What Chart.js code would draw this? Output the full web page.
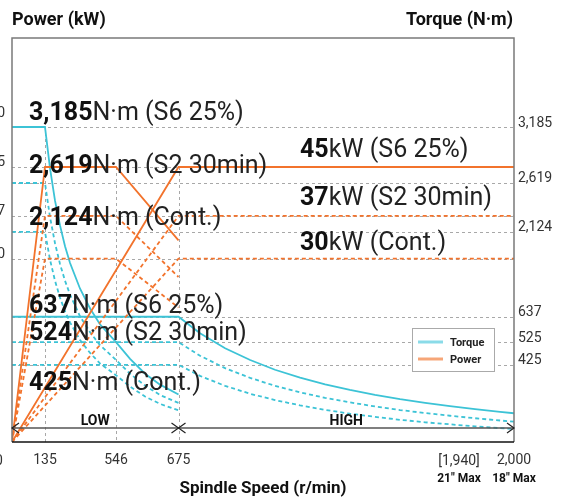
<!DOCTYPE html>
<html>
<head>
<meta charset="utf-8">
<script src="https://cdn.jsdelivr.net/npm/chart.js@4.4.1/dist/chart.umd.min.js"></script>
<style>
html, body { margin: 0; padding: 0; background: #fff; }
#wrap { width: 561px; height: 504px; }
</style>
</head>
<body>
<div id="wrap"><canvas id="chart"></canvas></div>
<script>
// speed in r/min, power in kW, torque in N·m
const speedTicks = [0, 135, 546, 675, 2000];
const powerTicks = [50, 45, 37, 30];
const torqueLowTicks = [3185, 2619, 2124];
const torqueHighTicks = [637, 525, 425];

// low gear
const lowSpeed = [0, 135, 164, 193, 222, 251, 280, 338, 396, 453, 546, 575, 606, 637, 675];
const lowTorqueS6 = [3185, 3185, 2770, 2440, 2190, 1980, 1810, 1550, 1350, 1190, 1010, 840, 690, 580, 480];
const lowTorqueS2 = [2619, 2619, 2275, 2010, 1800, 1630, 1490, 1270, 1110, 980, 830, 690, 570, 475, 395];
const lowTorqueCont = [2124, 2124, 1845, 1630, 1460, 1320, 1210, 1030, 900, 795, 675, 560, 460, 385, 320];
const lowPowerSpeed = [0, 135, 546, 675];
const lowPowerS6 = [0, 45, 45, 33];
const lowPowerS2 = [0, 37, 37, 27];
const lowPowerCont = [0, 30, 30, 22];

// high gear
const highSpeed = [0, 675, 760, 859, 958, 1056, 1155, 1254, 1352, 1451, 1550, 1649, 1747, 1846, 1945, 2000];
const highTorqueS6 = [637, 637, 564, 498, 446, 403, 368, 339, 314, 292, 273, 257, 242, 229, 217, 211];
const highTorqueS2 = [525, 525, 465, 410, 367, 332, 303, 279, 259, 241, 225, 212, 200, 189, 179, 174];
const highTorqueCont = [425, 425, 376, 332, 297, 269, 246, 226, 209, 195, 182, 171, 162, 153, 145, 141];
const highPowerSpeed = [0, 675, 2000];
const highPowerS6 = [0, 45, 45];
const highPowerS2 = [0, 37, 37];
const highPowerCont = [0, 30, 30];

const CYAN = '#3cc3d6';
const ORANGE = '#f2732c';
const GRID = '#a8a8a8';
const FONT = "Roboto, 'DejaVu Sans', sans-serif";

Chart.defaults.font.family = FONT;

// the drawing's axes are not linear, they bend at a few points
class BreakScale extends Chart.LinearScale {
  warp(v) {
    const b = this.options.breaks;
    for (let i = 1; i < b.length; i++) {
      if (v <= b[i][0] || i === b.length - 1) {
        const t = (v - b[i - 1][0]) / (b[i][0] - b[i - 1][0]);
        return b[i - 1][1] + t * (b[i][1] - b[i - 1][1]);
      }
    }
    return 0;
  }
  getPixelForValue(value) {
    return this.getPixelForDecimal(this.warp(value));
  }
  getValueForPixel(pixel) {
    const d = this.getDecimalForPixel(pixel);
    const b = this.options.breaks;
    for (let i = 1; i < b.length; i++) {
      if (d <= b[i][1] || i === b.length - 1) {
        const t = (d - b[i - 1][1]) / (b[i][1] - b[i - 1][1]);
        return b[i - 1][0] + t * (b[i][0] - b[i - 1][0]);
      }
    }
    return 0;
  }
}
BreakScale.id = 'breaks';
BreakScale.defaults = Chart.LinearScale.defaults;
Chart.register(BreakScale);

function pts(xs, ys) {
  return xs.map((x, i) => ({x: x, y: ys[i]}));
}

function line(label, xs, ys, color, axis, dashed) {
  return {
    label: label,
    data: pts(xs, ys),
    yAxisID: axis,
    borderColor: color,
    borderWidth: 1.8,
    borderDash: dashed ? [4, 3] : [],
    pointRadius: 0,
    tension: 0,
    fill: false
  };
}

const notes = [
  {b: '3,185', r: 'N·m (S6 25%)', x: 29, y: 120},
  {b: '2,619', r: 'N·m (S2 30min)', x: 29, y: 173},
  {b: '2,124', r: 'N·m (Cont.)', x: 29, y: 225},
  {b: '637', r: 'N·m (S6 25%)', x: 29, y: 313},
  {b: '524', r: 'N·m (S2 30min)', x: 29, y: 340},
  {b: '425', r: 'N·m (Cont.)', x: 29, y: 390},
  {b: '45', r: 'kW (S6 25%)', x: 300, y: 157},
  {b: '37', r: 'kW (S2 30min)', x: 300, y: 205},
  {b: '30', r: 'kW (Cont.)', x: 300, y: 250}
];

function dashH(ctx, x1, x2, y) {
  ctx.beginPath();
  ctx.moveTo(x1, Math.round(y) + 0.5);
  ctx.lineTo(x2, Math.round(y) + 0.5);
  ctx.stroke();
}

const drawing = {
  id: 'drawing',
  beforeDatasetsDraw(chart) {
    const {ctx, chartArea: a, scales} = chart;
    ctx.save();
    ctx.strokeStyle = GRID;
    ctx.lineWidth = 1;
    ctx.setLineDash([3, 3]);
    powerTicks.slice(1).forEach(v => dashH(ctx, a.left, a.right, scales.y.getPixelForValue(v)));
    torqueLowTicks.forEach(v => dashH(ctx, a.left, a.right, scales.yT.getPixelForValue(v)));
    torqueHighTicks.forEach(v => dashH(ctx, a.left, a.right, scales.yH.getPixelForValue(v)));
    const tops = [
      [135, scales.yT.getPixelForValue(3185)],
      [546, scales.y.getPixelForValue(45)],
      [675, scales.y.getPixelForValue(45)]
    ];
    tops.forEach(([v, top]) => {
      const x = Math.round(scales.x.getPixelForValue(v)) + 0.5;
      ctx.beginPath();
      ctx.moveTo(x, top);
      ctx.lineTo(x, a.bottom);
      ctx.stroke();
    });
    ctx.restore();
  },
  afterDatasetsDraw(chart) {
    const {ctx, chartArea: a, scales} = chart;
    const xs = scales.x;
    ctx.save();

    // frame
    ctx.lineWidth = 1.5;
    ctx.strokeStyle = '#7a7a7a';
    ctx.beginPath();
    ctx.moveTo(a.left, a.bottom);
    ctx.lineTo(a.left, a.top);
    ctx.lineTo(a.right, a.top);
    ctx.lineTo(a.right, a.bottom);
    ctx.stroke();
    ctx.strokeStyle = '#111';
    ctx.beginPath();
    ctx.moveTo(a.left, a.bottom);
    ctx.lineTo(a.right, a.bottom);
    ctx.stroke();

    // gear ranges
    const ay = a.bottom - 14;
    const x0 = xs.getPixelForValue(0), x1 = xs.getPixelForValue(675), x2 = xs.getPixelForValue(2000);
    ctx.strokeStyle = '#555';
    ctx.lineWidth = 1.6;
    ctx.beginPath();
    ctx.moveTo(x0, ay);
    ctx.lineTo(x2, ay);
    ctx.stroke();
    ctx.lineWidth = 1.2;
    ctx.strokeStyle = '#222';
    [[x0, 1], [x1, -1], [x1, 1], [x2, -1]].forEach(([x, d]) => {
      ctx.beginPath();
      ctx.moveTo(x + d * 7, ay - 5);
      ctx.lineTo(x, ay);
      ctx.lineTo(x + d * 7, ay + 5);
      ctx.stroke();
    });
    ctx.fillStyle = '#111';
    ctx.font = 'bold 14px ' + FONT;
    ctx.textAlign = 'center';
    ctx.textBaseline = 'alphabetic';
    ctx.fillText('LOW', (x0 + x1) / 2, ay - 3);
    ctx.fillText('HIGH', (x1 + x2) / 2, ay - 3);

    // axis titles
    ctx.font = 'bold 18px ' + FONT;
    ctx.textAlign = 'left';
    ctx.fillText('Power (kW)', a.left, 25);
    ctx.textAlign = 'right';
    ctx.fillText('Torque (N·m)', a.right - 1, 25);

    // right torque labels
    ctx.font = '14px ' + FONT;
    ctx.fillStyle = '#333';
    ctx.textAlign = 'left';
    ctx.textBaseline = 'middle';
    torqueLowTicks.forEach(v => ctx.fillText(v.toLocaleString('en-US'), a.right + 4, scales.yT.getPixelForValue(v) - 4));
    torqueHighTicks.forEach(v => ctx.fillText(v.toLocaleString('en-US'), a.right + 4, scales.yH.getPixelForValue(v) - 4));

    // extra speed labels
    const ly = a.bottom + 19;
    ctx.textAlign = 'center';
    ctx.fillText('0', x0 - 13, ly);
    ctx.fillText('[1,940]', x2 - 55, ly);
    ctx.font = 'bold 12px ' + FONT;
    ctx.fillStyle = '#111';
    ctx.fillText('21" Max', x2 - 55, ly + 18);
    ctx.fillText('18" Max', x2, ly + 18);

    // curve notes
    ctx.textAlign = 'left';
    ctx.textBaseline = 'alphabetic';
    notes.forEach(n => {
      ctx.fillStyle = '#111';
      ctx.font = 'bold 25px ' + FONT;
      ctx.fillText(n.b, n.x, n.y);
      const w = ctx.measureText(n.b).width;
      ctx.fillStyle = '#222';
      ctx.font = '25px ' + FONT;
      ctx.fillText(n.r, n.x + w, n.y);
    });

    // legend
    ctx.setLineDash([]);
    ctx.fillStyle = '#fff';
    ctx.fillRect(412.5, 328.5, 82, 43);
    ctx.strokeStyle = '#aaa';
    ctx.lineWidth = 1;
    ctx.strokeRect(412.5, 328.5, 82, 43);
    ctx.lineWidth = 3;
    ctx.strokeStyle = '#8adbe8';
    ctx.beginPath(); ctx.moveTo(418, 342); ctx.lineTo(443, 342); ctx.stroke();
    ctx.strokeStyle = '#f6a678';
    ctx.beginPath(); ctx.moveTo(418, 359); ctx.lineTo(443, 359); ctx.stroke();
    ctx.fillStyle = '#222';
    ctx.font = 'bold 11px ' + FONT;
    ctx.textBaseline = 'middle';
    ctx.fillText('Torque', 450, 343);
    ctx.fillText('Power', 450, 360);

    ctx.restore();
  }
};

new Chart(document.getElementById('chart'), {
  type: 'line',
  data: {
    datasets: [
      line('Power S6 low', lowPowerSpeed, lowPowerS6, ORANGE, 'y', false),
      line('Power S2 low', lowPowerSpeed, lowPowerS2, ORANGE, 'y', true),
      line('Power Cont low', lowPowerSpeed, lowPowerCont, ORANGE, 'y', true),
      line('Power S6 high', highPowerSpeed, highPowerS6, ORANGE, 'y', false),
      line('Power S2 high', highPowerSpeed, highPowerS2, ORANGE, 'y', true),
      line('Power Cont high', highPowerSpeed, highPowerCont, ORANGE, 'y', true),
      line('Torque S6 low', lowSpeed, lowTorqueS6, CYAN, 'yT', false),
      line('Torque S2 low', lowSpeed, lowTorqueS2, CYAN, 'yT', true),
      line('Torque Cont low', lowSpeed, lowTorqueCont, CYAN, 'yT', true),
      line('Torque S6 high', highSpeed, highTorqueS6, CYAN, 'yH', false),
      line('Torque S2 high', highSpeed, highTorqueS2, CYAN, 'yH', true),
      line('Torque Cont high', highSpeed, highTorqueCont, CYAN, 'yH', true)
    ]
  },
  options: {
    responsive: true,
    maintainAspectRatio: false,
    animation: false,
    layout: {padding: {top: 38, right: 47, left: 0, bottom: 0}},
    plugins: {legend: {display: false}, tooltip: {enabled: false}},
    scales: {
      x: {
        type: 'breaks',
        min: 0,
        max: 2000,
        breaks: [[0, 0], [135, 0.0657], [546, 0.2072], [675, 0.3317], [2000, 1]],
        afterBuildTicks: s => { s.ticks = speedTicks.map(v => ({value: v})); },
        afterFit: s => { s.height = 62; },
        grid: {display: false, drawTicks: false},
        border: {display: false},
        ticks: {
          autoSkip: false,
          maxRotation: 0,
          padding: 10,
          color: '#333',
          font: {size: 14},
          callback: v => v === 0 ? '' : v.toLocaleString('en-US')
        },
        title: {
          display: true,
          text: 'Spindle Speed (r/min)',
          color: '#111',
          font: {size: 17, weight: 'bold'},
          padding: {top: 0, bottom: 5}
        }
      },
      y: {
        type: 'breaks',
        position: 'left',
        min: 0,
        max: 60,
        breaks: [[0, 0], [45, 0.6807], [50, 0.802], [60, 1]],
        afterBuildTicks: s => { s.ticks = powerTicks.map(v => ({value: v})); },
        afterFit: s => { s.width = 12; },
        grid: {display: false, drawTicks: false},
        border: {display: false},
        ticks: {padding: 7, color: '#333', font: {size: 14}, labelOffset: -4}
      },
      yT: {display: false, min: 0, max: 4085},
      yH: {display: false, min: 84, max: 1868}
    }
  },
  plugins: [drawing]
});
</script>
</body>
</html>
